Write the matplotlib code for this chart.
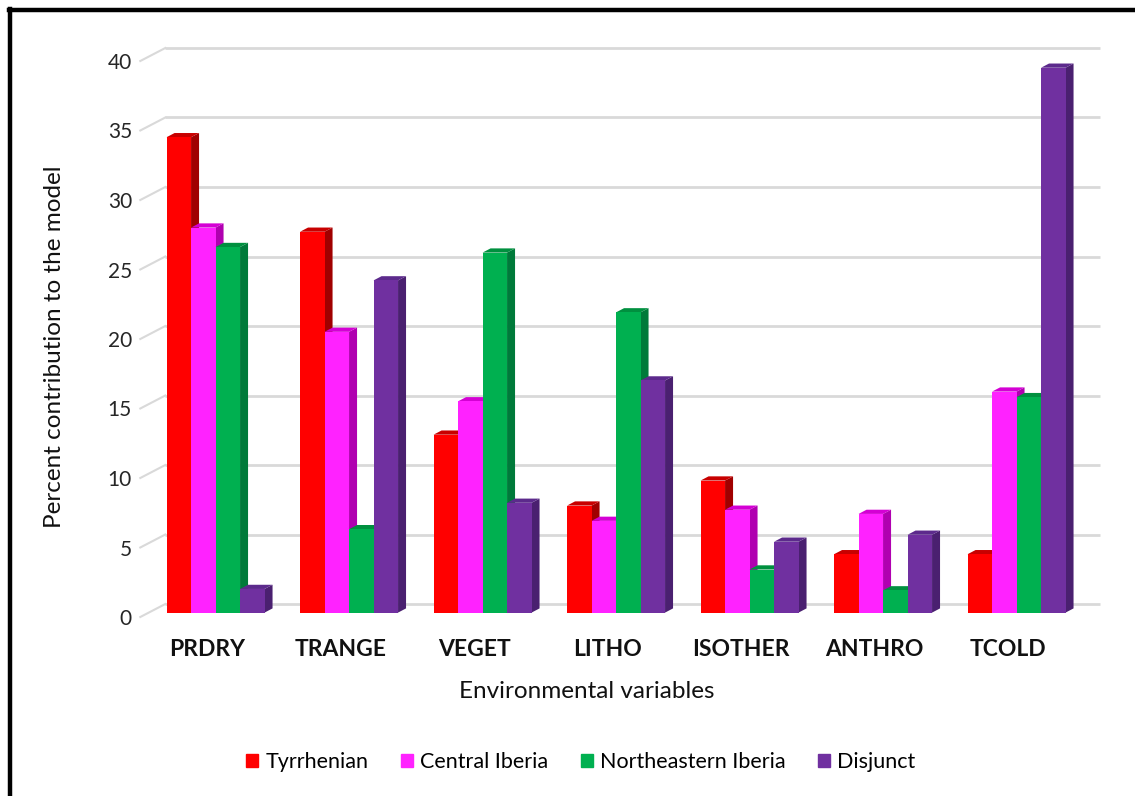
import matplotlib
matplotlib.use("Agg")
import matplotlib.pyplot as plt
from matplotlib.patches import Polygon
from matplotlib.lines import Line2D
from matplotlib.transforms import ScaledTranslation
import numpy as np

plt.rcParams['font.family'] = ['Lato', 'DejaVu Sans']

categories = ["PRDRY", "TRANGE", "VEGET", "LITHO", "ISOTHER", "ANTHRO", "TCOLD"]
series_names = ["Tyrrhenian", "Central Iberia", "Northeastern Iberia", "Disjunct"]
tyrrhenian = [34.2, 27.4, 12.8, 7.7, 9.5, 4.2, 4.2]
central_iberia = [27.7, 20.2, 15.2, 6.6, 7.4, 7.1, 15.9]
northeastern_iberia = [26.3, 6.0, 25.9, 21.6, 3.1, 1.6, 15.5]
disjunct = [1.7, 23.9, 7.9, 16.7, 5.1, 5.6, 39.2]
values = [tyrrhenian, central_iberia, northeastern_iberia, disjunct]
yticks = [0, 5, 10, 15, 20, 25, 30, 35, 40]

front_colors = ['#FF0000', '#FF22FF', '#00B050', '#7030A0']
side_colors = ['#A00000', '#B000B0', '#007A3A', '#4A2070']
top_colors = ['#C80000', '#D400D4', '#00903F', '#5C2A8C']

W, H = 1135, 796
fig = plt.figure(figsize=(W / 100, H / 100), dpi=100)
# front plane of the plot area (pixels)
x_left, x_right = 140.3, 1074.8
y_bot, y_top = 617, 61
ax = fig.add_axes([x_left / W, (H - y_bot) / H, (x_right - x_left) / W, (y_bot - y_top) / H])
ax.set_xlim(-0.5, len(categories) - 0.5)
ax.set_ylim(0, 40)
for s in ax.spines.values():
    s.set_visible(False)
ax.set_facecolor('none')

px_x = (x_right - x_left) / len(categories)  # pixels per x unit
px_y = (y_bot - y_top) / 40.0                 # pixels per y unit

# depth (pixels) of the full wall and of a bar
wall_dx, wall_dy = 25, 13
bar_front_dx, bar_front_dy = 8.5, 4.4
bar_dx, bar_dy = 8.0, 4.2

# back wall grid + side wall slants
wdx, wdy = wall_dx / px_x, wall_dy / px_y
x0, x1 = -0.5, len(categories) - 0.5
grid_col = '#D9D9D9'
for v in yticks:
    ax.plot([x0 + wdx, x1 + wdx], [v + wdy, v + wdy], color=grid_col, lw=2,
            clip_on=False, zorder=0.5, solid_capstyle='butt')
    ax.plot([x0, x0 + wdx], [v, v + wdy], color=grid_col, lw=1.5,
            clip_on=False, zorder=0.5)

# bars
bar_trans = ax.transData + ScaledTranslation(bar_front_dx / 100, bar_front_dy / 100, fig.dpi_scale_trans)
bw = 0.1835
n = len(series_names)
bdx, bdy = bar_dx / px_x, bar_dy / px_y
xs = np.arange(len(categories))
for i, (vals, fc, sc, tc) in enumerate(zip(values, front_colors, side_colors, top_colors)):
    lefts = xs - n * bw / 2 + i * bw
    ax.bar(lefts, vals, width=bw, align='edge', color=fc, transform=bar_trans,
           zorder=3 + 2 * i, clip_on=False, linewidth=0)
    for l, h in zip(lefts, vals):
        r = l + bw
        side = Polygon([(r, 0), (r, h), (r + bdx, h + bdy), (r + bdx, bdy)],
                       closed=True, facecolor=sc, edgecolor='none',
                       transform=bar_trans, zorder=2 + 2 * i, clip_on=False)
        top = Polygon([(l, h), (r, h), (r + bdx, h + bdy), (l + bdx, h + bdy)],
                      closed=True, facecolor=tc, edgecolor='none',
                      transform=bar_trans, zorder=2 + 2 * i, clip_on=False)
        ax.add_patch(side)
        ax.add_patch(top)

ax.set_yticks(yticks)
ax.set_yticklabels([str(v) for v in yticks], fontsize=15, color='#262626')
ax.set_xticks(xs)
ax.set_xticklabels(categories, fontsize=16.5, fontweight='bold', color='#111111')
ax.tick_params(axis='y', length=0, pad=6)
ax.tick_params(axis='x', length=0, pad=16)

fig.text(587 / W, 1 - 692 / H, "Environmental variables", ha='center', va='center',
         fontsize=17.5, color='#111111')
fig.text(55 / W, 1 - 347 / H, "Percent contribution to the model", ha='center', va='center',
         rotation=90, fontsize=17.5, color='#111111')

handles = [plt.Rectangle((0, 0), 1, 1, color=c) for c in front_colors]
fig.legend(handles, series_names, loc='center', bbox_to_anchor=(581 / W, 1 - 762 / H),
           ncol=4, frameon=False, fontsize=15.5, handlelength=0.55, handleheight=0.55,
           handletextpad=0.35, columnspacing=1.5)

# black frame (top and left edges)
fig.add_artist(Line2D([9 / W, 1], [1 - 10 / H, 1 - 10 / H], color='black', lw=3.2,
                      transform=fig.transFigure))
fig.add_artist(Line2D([10 / W, 10 / W], [0, 1 - 9 / H], color='black', lw=3.2,
                      transform=fig.transFigure))

fig.savefig("out.png", dpi=100)
